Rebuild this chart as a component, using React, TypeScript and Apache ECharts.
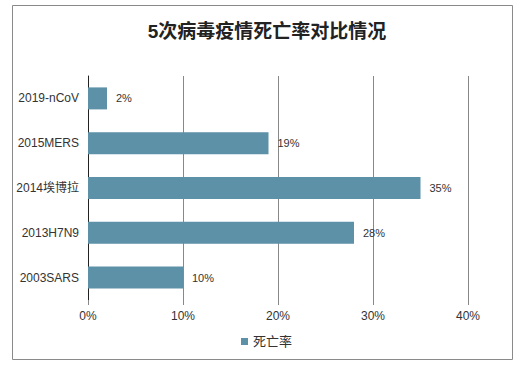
import React, { useEffect, useRef } from "react";
import * as echarts from "echarts";

const categories = ["2003SARS", "2013H7N9", "2014埃博拉", "2015MERS", "2019-nCoV"];
const deathRates = [10, 28, 35, 19, 2];
const xTicks = [0, 10, 20, 30, 40];
const seriesName = "死亡率";
const titleText = "5次病毒疫情死亡率对比情况";

const FONT = "'Liberation Sans', 'Noto Sans CJK SC', sans-serif";

export default function App() {
  const ref = useRef<HTMLDivElement>(null);
  useEffect(() => {
    if (!ref.current) return;
    const chart = echarts.init(ref.current, undefined, { renderer: "svg" });
    chart.setOption({
      animation: false,
      backgroundColor: "#fff",
      title: {
        text: titleText,
        left: 262,
        top: 17,
        textAlign: "center",
        textStyle: { fontSize: 19, fontWeight: "bold", color: "#222", fontFamily: FONT },
      },
      graphic: [
        {
          type: "rect",
          shape: { x: 12.5, y: 5.5, width: 500, height: 354 },
          style: { fill: "none", stroke: "#8a8a8a", lineWidth: 1 },
          silent: true,
        },
      ],
      legend: {
        data: [seriesName],
        left: 236,
        top: 330,
        itemWidth: 7,
        itemHeight: 7,
        itemGap: 5,
        icon: "rect",
        textStyle: { fontSize: 13, color: "#333", fontFamily: FONT },
      },
      grid: { left: 88, right: 54, top: 76, bottom: 67, containLabel: false },
      xAxis: {
        type: "value",
        min: xTicks[0],
        max: xTicks[xTicks.length - 1],
        interval: 10,
        axisLine: { show: false },
        axisTick: { show: true, length: 5, lineStyle: { color: "#888" } },
        splitLine: { show: true, lineStyle: { color: "#888", width: 1 } },
        axisLabel: {
          formatter: (v: number) => v + "%",
          fontSize: 12,
          color: "#333",
          margin: 10,
          fontFamily: FONT,
        },
      },
      yAxis: {
        type: "category",
        data: categories,
        axisLine: { show: true, lineStyle: { color: "#222", width: 1 } },
        axisTick: { show: false },
        axisLabel: { fontSize: 12, color: "#333", margin: 9, fontFamily: FONT },
      },
      series: [
        {
          name: seriesName,
          type: "bar",
          data: deathRates,
          barWidth: 22,
          itemStyle: { color: "#5d91a7" },
          label: {
            show: true,
            position: "right",
            distance: 9,
            formatter: (p: any) => p.value + "%",
            fontSize: 11,
            color: "#333",
            fontFamily: FONT,
          },
        },
      ],
    });
    return () => chart.dispose();
  }, []);
  return (
    <div
      ref={ref}
      style={{ position: "absolute", left: 0, top: 0, width: 522, height: 367 }}
    />
  );
}
